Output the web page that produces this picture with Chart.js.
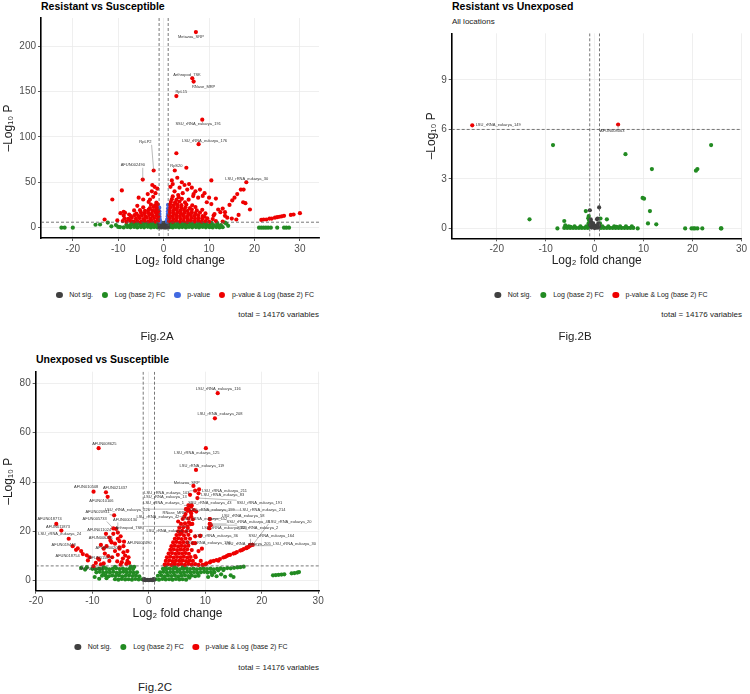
<!DOCTYPE html>
<html>
<head>
<meta charset="utf-8">
<script src="https://cdn.jsdelivr.net/npm/chart.js@4.4.1/dist/chart.umd.min.js"></script>
<style>
  html, body { margin: 0; padding: 0; background: #ffffff; }
  body { width: 750px; height: 694px; position: relative; overflow: hidden; font-family: "Liberation Sans", Arial, sans-serif; color: #000; }
  canvas { position: absolute; }
  .title { position: absolute; font-weight: bold; font-size: 10.5px; line-height: 12px; white-space: nowrap; }
  .subtitle { position: absolute; font-size: 8px; line-height: 10px; white-space: nowrap; color: #222; }
  .legend { position: absolute; display: flex; align-items: center; font-size: 7px; line-height: 8px; white-space: nowrap; transform: translate(-50%, -50%); color: #222; }
  .legend .item { display: flex; align-items: center; margin-right: 8.5px; }
  .legend .item:last-child { margin-right: 0; }
  .legend .dot { width: 6.8px; height: 6.8px; border-radius: 50%; display: inline-block; margin-right: 6.5px; }
  .total { position: absolute; font-size: 8px; line-height: 10px; white-space: nowrap; transform: translate(-100%, -50%); color: #222; }
  .fig { position: absolute; font-size: 11.5px; line-height: 13px; white-space: nowrap; transform: translate(-50%, -50%); color: #222; }
</style>
</head>
<body>
<div class="title" style="left:41px; top:0px;">Resistant vs Susceptible</div>
<div class="title" style="left:452px; top:0px;">Resistant vs Unexposed</div>
<div class="subtitle" style="left:452px; top:17px;">All locations</div>
<div class="title" style="left:36px; top:353px;">Unexposed vs Susceptible</div>

<canvas id="chart-a" width="330" height="270" style="left:0px; top:0px; width:330px; height:270px;"></canvas>
<canvas id="chart-b" width="327" height="271" style="left:423px; top:0px; width:327px; height:271px;"></canvas>
<canvas id="chart-c" width="330" height="284" style="left:0px; top:340px; width:330px; height:284px;"></canvas>

<div class="legend" id="legend-a" style="left:185px; top:295px;"></div>
<div class="legend" id="legend-b" style="left:601px; top:295px;"></div>
<div class="legend" id="legend-c" style="left:181px; top:647px;"></div>

<div class="total" style="left:319px; top:315px;">total = 14176 variables</div>
<div class="total" style="left:742px; top:315px;">total = 14176 variables</div>
<div class="total" style="left:319px; top:668px;">total = 14176 variables</div>

<div class="fig" style="left:157px; top:336px;">Fig.2A</div>
<div class="fig" style="left:575px; top:336px;">Fig.2B</div>
<div class="fig" style="left:155px; top:687px;">Fig.2C</div>

<script>
const CATEGORY_NAMES = ["Not sig.", "Log (base 2) FC", "p-value", "p-value & Log (base 2) FC"];
const CATEGORY_COLORS = ["#404040", "#228b22", "#4169e1", "#ee0000"];
const FC_CUTOFF = 1;
const P_CUTOFF = 6;

const X_TICKS = [-20, -10, 0, 10, 20, 30];
const A_Y_TICKS = [0, 50, 100, 150, 200];
const B_Y_TICKS = [0, 3, 6, 9];
const C_Y_TICKS = [0, 20, 40, 60, 80];

// Fig.2A  Resistant vs Susceptible
const A_NOT_SIG = [[-0.9,0.3],[-0.5,0.2],[-0.1,0.4],[0.3,0.1],[0.7,0.3],[0.95,0.5],[-0.8,2.0],[-0.4,2.2],[0.0,1.8],[0.4,2.3],[0.8,2.0],[-0.95,3.8],[-0.6,4.0],[-0.2,3.6],[0.2,4.1],[0.6,3.9],[0.9,4.4],[-0.8,5.4],[-0.3,5.2],[0.3,5.5],[0.85,5.6]];
const A_LOG_FC = [
  [-9.6,0.6],[-8.8,0.3],[-8.0,0.8],[-7.3,0.4],[-6.5,0.7],[-5.8,0.2],[-5.0,0.6],[-4.3,0.4],[-3.5,0.9],[-2.8,0.3],[-2.1,0.6],[-1.4,0.4],
  [1.3,0.5],[2.0,0.3],[2.7,0.8],[3.4,0.4],[4.1,0.6],[4.9,0.2],[5.6,0.7],[6.3,0.4],[7.1,0.6],[7.8,0.3],[8.6,0.7],[9.3,0.4],[10.1,0.5],[10.8,0.2],[11.6,0.6],[12.3,0.3],[13.0,0.5],
  [-8.2,3.1],[-7.4,2.7],[-6.6,3.3],[-5.9,2.8],[-5.1,3.2],[-4.4,2.6],[-3.6,3.0],[-2.9,3.4],[-2.2,2.8],[-1.5,3.1],
  [1.4,2.9],[2.1,3.3],[2.8,2.7],[3.6,3.1],[4.3,2.8],[5.0,3.4],[5.8,2.9],[6.5,3.2],[7.2,2.6],[8.0,3.0],[8.7,3.3],[9.5,2.8],[10.2,3.1],[11.0,2.7],[11.8,3.2],[12.6,2.9],
  [-7.0,5.2],[-6.1,5.5],[-5.3,5.0],[-4.5,5.4],[-3.8,5.1],[-3.0,5.6],[-2.3,5.2],[-1.6,5.5],
  [1.5,5.3],[2.2,5.6],[3.0,5.1],[3.7,5.5],[4.5,5.2],[5.3,5.6],[6.0,5.0],[6.8,5.4],[7.6,5.2],[8.4,5.5],[9.3,5.0],[10.5,5.4],[11.8,5.1],[13.5,5.5],
  [-15.0,3.2],[-14.0,3.5],[-12.3,5.6],[-11.5,1.5],[-10.5,2.8],[-10.0,0.8],[-22.5,0],[-21.8,0],[-20.0,0],[14.2,2.0],[13.8,4.5],
  [21.0,0],[21.5,0],[22.0,0],[22.5,0],[23.0,0],[23.6,0],[25.0,0],[26.5,0],[27.0,0],[27.6,0]
];
const A_PVALUE = [[-0.95,7],[-0.9,9.5],[-0.9,12],[-0.92,15],[-0.95,18],[-0.96,22],[-0.85,8],[-0.75,6.5],[0.75,6.5],[0.85,7.5],[0.8,9],[0.9,10],[0.9,12.5],[0.92,15],[0.95,18],[0.96,21],[0.97,25]];
const A_BOTH = [
  [-9.0,7.2],[-8.2,6.6],[-7.4,7.5],[-6.6,6.8],[-5.8,7.3],[-5.0,6.5],[-4.2,7.7],[-3.4,6.9],[-2.6,7.4],[-1.8,6.7],[-1.2,7.6],
  [-8.6,10.3],[-7.8,9.6],[-7.0,10.8],[-6.1,9.9],[-5.3,10.5],[-4.5,9.4],[-3.7,10.9],[-2.9,10.0],[-2.1,10.6],[-1.3,9.7],
  [-8.8,13.4],[-7.2,12.6],[-6.4,13.8],[-5.6,12.9],[-4.8,13.5],[-4.0,12.4],[-3.2,13.9],[-2.4,13.0],[-1.6,13.6],[-1.2,12.5],
  [-8.5,16.4],[-6.0,15.6],[-5.0,16.8],[-4.2,15.9],[-3.4,16.5],[-2.6,15.4],[-1.8,16.9],[-1.3,16.0],
  [-5.2,19.3],[-4.1,18.6],[-3.3,19.8],[-2.5,18.9],[-1.7,19.5],[-1.2,18.4],
  [-4.5,22.4],[-3.0,21.6],[-2.2,22.8],[-1.5,21.9],[-2.8,25.3],[-1.9,24.6],[-1.3,25.8],[-3.3,28.4],[-1.6,27.7],
  [-3.0,31],[-2.3,34],[-1.8,38],[-2.6,40],[-1.4,43],[-2.0,45],[-2.5,47],[-3.5,37],[-5.5,33],[-4.5,31],[-9.2,41],[-11.3,31],
  [-8.8,17.5],[-9.5,16],[-7.6,14.5],[-13.0,9],[-10.2,8],[-6.5,19],[-5.8,24],[-2.2,63],[-4.6,53],
  [1.2,7.3],[2.0,6.6],[2.8,7.6],[3.6,6.8],[4.4,7.4],[5.2,6.5],[6.0,7.8],[6.8,6.9],[7.6,7.5],[8.4,6.7],[9.2,7.3],[10.0,6.6],[11.5,7.2],[13.0,6.8],
  [1.3,10.4],[2.1,9.6],[2.9,10.8],[3.7,9.8],[4.5,10.5],[5.3,9.4],[6.1,10.9],[6.9,10.0],[7.7,10.6],[8.5,9.7],[9.6,10.3],[10.8,9.5],
  [1.2,13.5],[2.0,12.6],[2.8,13.8],[3.6,12.9],[4.4,13.4],[5.2,12.5],[6.0,13.9],[6.8,13.1],[7.6,13.6],[8.6,12.7],[11.0,13.3],
  [1.4,16.4],[2.2,15.6],[3.0,16.8],[3.8,15.8],[4.6,16.5],[5.4,15.4],[6.2,16.9],[7.0,16.0],[8.0,16.6],[9.2,15.7],
  [1.3,19.4],[2.1,18.6],[2.9,19.8],[3.7,18.8],[4.5,19.5],[5.3,18.5],[6.2,19.9],[7.3,19.0],[8.5,19.6],
  [1.5,22.4],[2.3,21.6],[3.1,22.8],[3.9,21.8],[4.8,22.5],[5.8,21.5],[7.0,22.7],
  [1.4,25.4],[2.2,24.6],[3.0,25.8],[3.9,24.8],[5.0,25.5],[6.3,24.7],
  [1.6,28.4],[2.5,27.6],[3.5,28.8],[4.7,27.8],[1.8,31.4],[2.8,30.6],[4.0,31.8],[5.5,30.8],[2.0,34.4],[3.3,33.6],[6.5,34.8],
  [2.8,82],[5.0,66],[10.5,52],[1.8,52],[3.0,55],[4.0,50],[4.6,47],[5.6,48],[6.2,44],[7.0,40],[5.2,42],[3.5,44],[2.4,40],
  [8.0,42],[9.0,38],[8.6,35],[7.6,33],[6.6,37],[10.0,33],[11.5,32],[9.5,28],[10.5,26],[12.0,20],[13.0,21],[12.5,17],[11.2,15],
  [13.5,13],[14.0,11],[9.0,12],[15.0,10],[16.0,9],[16.5,14],[14.5,25],[15.1,30],[15.6,33],[16.2,37],[17.0,42],[17.6,42],
  [17.5,28],[18.0,27],[19.0,20],[13.5,17],[1.5,45],[2.0,48],[3.2,36],[4.2,38],
  [21.5,8.5],[22.0,9],[22.6,9],[23.3,10],[23.8,10],[24.5,11],[25.0,11.5],[25.5,12],[26.0,12.5],[26.5,13],[28.0,14],[28.6,14.5],[30.0,16],
  [7.1,215.5],[6.3,164.6],[6.6,161],[2.8,145],[8.5,119],[7.7,92],[2.45,63],[18.2,50]
];
const A_LABEL_NAMES = ["Metazoa_SRP", "Arthropod_7SK", "RNase_MRP", "RpL15", "SSU_rRNA_eukarya_191", "LSU_rRNA_eukarya_176", "RpLP2", "AFUN002490", "RpS20", "LSU_rRNA_eukarya_30"];
const A_LABEL_POINTS = [[7.1,215.5],[6.3,164.6],[6.6,161],[2.8,145],[8.5,119],[7.7,92],[-2.2,63],[-4.6,53],[2.45,63],[18.2,50]];
const A_LABEL_TEXT_AT = [[6.0,210],[5.15,168.7],[8.8,155.3],[3.9,150],[7.6,114],[9.0,96],[-4.0,94],[-6.8,68.7],[2.8,68.4],[18.3,54]];

// Fig.2B  Resistant vs Unexposed
const B_NOT_SIG = [[-0.97,1.1],[-0.8,0.55],[-0.7,0.4],[0.92,1.27],[0.6,0.6],[0.5,0.55],[0.2,0.15],[-0.2,0.1],[-0.5,0.15],[0.0,0.02],[0.4,0.05],[-0.9,0.2],[0.9,0.15],[-0.6,0.05],[0.7,0.05],[-0.3,0.3],[0.75,0.3]];
const B_LOG_FC = [
  [-6.2,0.03],[-5.6,0.03],[-5.0,0.03],[-4.4,0.03],[-3.8,0.03],[-3.2,0.03],[-2.6,0.03],[-2.0,0.03],[-1.4,0.03],
  [1.3,0.03],[1.9,0.03],[2.5,0.03],[3.1,0.03],[3.7,0.03],[4.3,0.03],[4.9,0.03],[5.5,0.03],[6.1,0.03],[6.7,0.03],[7.3,0.03],[7.9,0.03],
  [-5.3,0.12],[-4.1,0.12],[-2.9,0.12],[-1.7,0.12],[-1.2,0.12],[1.6,0.12],[2.8,0.12],[4.0,0.12],[5.2,0.12],[6.4,0.12],[7.6,0.12],
  [-1.8,1.05],[-1.2,0.75],[-1.3,0.62],[-1.1,0.5],[-1.25,0.3],[-1.1,0.2],[1.2,0.6],[2.5,0.55],[1.1,0.3],[-6.2,0.45],[-6.0,0.18],[-4.9,0.1],
  [-13.3,0.55],[-7.6,0],[-8.5,5.05],[6.3,4.5],[11.7,3.6],[20.7,3.5],[21.0,3.6],[23.8,5.05],[9.8,1.85],[10.1,1.8],[11.3,1.05],[10.9,0.3],[12.6,0.25],
  [8.8,0],[4.5,0.1],[18.5,0],[19.8,0],[20.2,0],[20.5,0],[21.0,0],[22.0,0],[25.8,0],[25.9,0]
];
const B_BOTH = [[-25.0,6.25],[4.8,6.3]];
const B_LABEL_NAMES = ["LSU_rRNA_eukarya_149", "AFUN008063"];
const B_LABEL_POINTS = [[-25.0,6.25],[4.8,6.3]];
const B_LABEL_TEXT_AT = [[-19.7,6.25],[3.6,5.9]];

// Fig.2C  Unexposed vs Susceptible
const C_NOT_SIG = [[-0.9,0.3],[-0.6,0.2],[-0.3,0.3],[0.0,0.2],[0.3,0.3],[0.6,0.2],[0.9,0.3],[-0.8,0.7],[0.8,0.7]];
const C_LOG_FC = [
  [-6.0,0.6],[-5.4,0.4],[-4.8,0.7],[-4.2,0.5],[-3.6,0.6],[-3.0,0.4],[-2.4,0.7],[-1.8,0.5],[-1.2,0.6],
  [-8.3,2.0],[-7.7,2.2],[-7.1,1.8],[-6.5,2.1],[-5.9,1.9],[-5.3,2.2],[-4.7,1.8],[-4.1,2.0],[-3.5,2.2],[-2.9,1.9],[-2.3,2.1],[-1.7,1.8],
  [-9.3,3.4],[-8.7,3.6],[-8.1,3.2],[-7.5,3.5],[-6.9,3.3],[-6.3,3.6],[-5.7,3.2],[-5.1,3.4],[-4.5,3.6],[-3.9,3.3],[-3.3,3.5],[-2.7,3.2],[-2.1,3.4],
  [-10.0,4.8],[-9.4,4.6],[-8.8,4.9],[-8.2,4.7],[-7.6,5.0],[-7.0,4.6],[-6.4,4.8],[-5.8,5.0],[-5.2,4.7],[-4.6,4.9],[-4.0,4.6],[-3.4,4.8],[-2.8,4.7],
  [-11.3,4.5],[-11.0,5.5],[-12.0,5.2],[-9.6,1.5],[-8.8,0.8],[-7.5,1.0],[-2.6,5.6],[-3.2,5.7],[-6.0,5.6],[-8.0,5.5],
  [1.2,0.6],[1.8,0.4],[2.4,0.7],[3.0,0.5],[3.6,0.6],[4.2,0.4],[4.8,0.7],[5.4,0.5],[6.0,0.6],[6.6,0.4],
  [1.6,2.0],[2.2,2.2],[2.8,1.8],[3.4,2.1],[4.0,1.9],[4.6,2.2],[5.2,1.8],[5.8,2.0],[6.4,2.2],[7.0,1.9],[7.6,2.1],[8.2,1.8],[8.8,2.0],
  [2.0,3.4],[2.6,3.6],[3.2,3.2],[3.8,3.5],[4.4,3.3],[5.0,3.6],[5.6,3.2],[6.2,3.4],[6.8,3.6],[7.4,3.3],[8.0,3.5],[8.6,3.2],[9.2,3.4],[9.8,3.6],[10.4,3.3],[11.0,3.5],[11.6,3.4],
  [2.5,4.8],[3.1,4.6],[3.7,4.9],[4.3,4.7],[4.9,5.0],[5.5,4.6],[6.1,4.8],[6.7,5.0],[7.3,4.7],[7.9,4.9],[8.5,4.6],[9.1,4.8],[9.7,5.0],[10.3,4.7],[10.9,4.9],[11.5,4.6],[12.1,4.8],[12.7,5.0],[13.3,4.8],[13.9,5.1],[14.5,5.0],[15.1,5.2],[15.7,5.4],
  [10.5,1.5],[11.2,2.3],[12.0,1.8],[12.8,2.6],[13.5,1.6],[14.5,2.2],[15.0,1.5],[16.2,5.5],[16.8,5.7],[12.3,4.2],[13.2,4.3],[7.2,1.2],
  [22.0,2.2],[22.5,2.3],[23.0,2.4],[23.5,2.5],[24.0,2.6],[25.3,3.0],[25.8,3.1],[26.3,3.3],[26.6,3.5],[3.0,5.6],[4.5,5.7],[6.0,5.5]
];
const C_BOTH = [
  [-5.0,6.5],[-5.6,7.8],[-4.6,9.0],[-4.2,10.2],[-3.8,12.0],[-4.5,11.5],[-5.2,13.0],[-6.0,12.0],[-6.5,9.5],[-7.0,8.0],[-8.0,7.0],[-8.5,6.6],
  [-9.4,7.2],[-10.5,9.5],[-11.0,10.3],[-6.0,15.0],[-5.5,17.0],[-5.0,18.0],[-6.8,16.3],[-7.5,14.0],[-7.0,17.5],[-8.0,13.0],[-5.2,16.0],
  [-4.5,14.0],[-3.8,8.0],[-4.0,6.8],[-3.5,7.2],[-10.8,8.2],[-12.0,12.0],[-12.9,12.5],[-13.5,14.0],[-8.5,14.5],[-6.3,19.0],[-5.8,21.0],
  [-7.8,11.0],[-7.2,10.0],[-9.0,9.0],[-4.8,7.5],[-3.6,9.5],[-5.5,10.5],
  [-8.9,53.7],[-9.8,36.1],[-7.6,35.8],[-7.3,34.0],[-6.15,26.5],[-16.4,23.0],[-6.3,21.2],[-5.5,19.5],[-15.5,20.3],[-7.6,19.0],
  [-14.2,17.0],[-6.6,15.5],[-4.4,15.8],[-12.6,13.1],[-5.2,13.5],[-11.7,10.8],[-8.8,8.5],[-9.8,5.9],
  [2.8,6.5],[3.4,6.7],[4.0,6.4],[4.6,6.8],[5.2,6.5],[5.8,6.7],[6.4,6.4],[7.0,6.8],[7.6,6.5],[8.2,6.7],[8.8,6.4],
  [3.0,8.0],[3.6,8.2],[4.2,7.9],[4.8,8.1],[5.4,8.0],[6.0,8.2],[6.6,7.9],[7.2,8.1],[7.8,8.0],
  [3.2,9.5],[3.8,9.7],[4.4,9.4],[5.0,9.6],[5.6,9.5],[6.2,9.7],[6.8,9.4],[7.4,9.6],[8.3,9.5],
  [3.5,11.0],[4.1,11.2],[4.7,10.9],[5.3,11.1],[5.9,11.0],[6.5,11.2],[7.1,10.9],
  [3.8,12.5],[4.4,12.7],[5.0,12.4],[5.6,12.6],[6.2,12.5],[6.8,12.7],[7.6,12.4],
  [4.0,14.0],[4.6,14.2],[5.2,13.9],[5.8,14.1],[6.4,14.0],[7.0,14.2],
  [4.3,15.5],[4.9,15.7],[5.5,15.4],[6.1,15.6],[6.8,15.5],
  [4.6,17.0],[5.2,17.2],[5.8,16.9],[6.5,17.1],[7.3,17.0],
  [4.9,18.5],[5.5,18.7],[6.2,18.4],[7.0,18.6],[5.2,20.0],[5.9,20.2],[6.6,19.9],[7.4,20.1],
  [5.4,21.5],[6.1,21.7],[6.9,21.4],[5.7,23.0],[6.4,23.2],[7.4,22.9],[6.0,25.0],[7.0,25.2],[7.8,24.9],[6.5,27.0],[7.5,27.2],
  [8.2,10.0],[8.8,12.0],[9.2,8.0],[7.8,15.2],[8.2,18.0],[9.1,18.2],[10.7,21.3],[10.8,23.0],[10.8,25.0],[7.7,23.0],[7.5,26.0],
  [7.0,29.0],[7.6,30.5],[8.4,28.0],[6.6,29.0],[5.2,24.0],[9.4,13.0],
  [9.5,6.4],[10.2,7.0],[10.8,7.4],[11.5,8.0],[12.0,8.4],[12.6,8.8],[13.2,9.4],[13.8,10.0],[14.4,10.5],[15.0,11.0],[15.6,11.6],
  [16.2,12.2],[16.8,12.8],[17.3,13.2],[17.9,14.2],[17.6,13.6],[13.5,9.6],[11.0,7.8],[10.0,6.6],[12.3,8.1],[14.1,10.4],[15.3,11.2],[16.5,12.4],
  [12.2,76.0],[11.7,65.8],[10.1,53.7],[8.35,44.9],[7.9,38.4],[8.2,36.5],[8.9,37.0],[7.3,34.8],[8.8,35.4],[7.0,30.5],[7.5,30.0],[8.6,33.5],
  [6.6,29.0],[6.9,28.3],[7.4,28.0],[8.0,28.6],[10.8,25.0],[6.3,26.0],[7.1,23.6],[10.8,23.0],[18.4,14.5],[6.8,22.0],[10.7,21.3],[11.0,22.5],
  [5.8,19.5],[9.1,18.2],[18.0,14.5],[8.2,15.2],[17.3,13.4],[17.9,14.2]
];
const C_LABEL_NAMES = [
  "AFUN008625", "AFUN010508", "AFUN021437", "AFUN010106", "AFUN020941", "AFUN018774", "AFUN005733", "AFUN000130", "AFUN011873",
  "AFUN011024", "LSU_rRNA_eukarya_24", "AFUN006291", "AFUN002490", "AFUN019448", "AFUN000205", "AFUN018754", "AFUN015071", "AFUN019253",
  "LSU_rRNA_eukarya_116", "LSU_rRNA_eukarya_208", "LSU_rRNA_eukarya_125", "LSU_rRNA_eukarya_119", "Metazoa_SRP", "LSU_rRNA_eukarya_103",
  "LSU_rRNA_eukarya_211", "LSU_rRNA_eukarya_13", "LSU_rRNA_eukarya_83", "LSU_rRNA_eukarya_1", "SSU_rRNA_eukarya_43", "SSU_rRNA_eukarya_191",
  "LSU_rRNA_eukarya_226", "RNase_MRP", "LSU_rRNA_eukarya_199", "LSU_rRNA_eukarya_214", "LSU_rRNA_eukarya_58", "LSU_rRNA_eukarya_42",
  "LSU_rRNA_eukarya_152", "SSU_rRNA_eukarya_48", "LSU_rRNA_eukarya_20", "Arthropod_7SK", "LSU_rRNA_eukarya_220", "SSU_rRNA_eukarya_2",
  "LSU_rRNA_eukarya_15", "LSU_rRNA_eukarya_36", "SSU_rRNA_eukarya_164", "LSU_rRNA_eukarya_136", "LSU_rRNA_eukarya_205", "LSU_rRNA_eukarya_30"
];
const C_LABEL_POINTS = [
  [-8.9,53.7],[-9.8,36.1],[-7.6,35.8],[-7.3,34.0],[-6.15,26.5],[-16.4,23.0],[-6.3,21.2],[-5.5,19.5],[-15.5,20.3],
  [-7.6,19.0],[-14.2,17.0],[-6.6,15.5],[-4.4,15.8],[-12.6,13.1],[-5.2,13.5],[-11.7,10.8],[-8.8,8.5],[-9.8,5.9],
  [12.2,76.0],[11.7,65.8],[10.1,53.7],[8.35,44.9],[7.9,38.4],[8.2,36.5],
  [8.9,37.0],[7.3,34.8],[8.8,35.4],[7.0,30.5],[7.5,30.0],[8.6,33.5],
  [6.6,29.0],[6.9,28.3],[7.4,28.0],[8.0,28.6],[10.8,25.0],[6.3,26.0],
  [7.1,23.6],[10.8,23.0],[18.4,14.5],[6.8,22.0],[10.7,21.3],[11.0,22.5],
  [5.8,19.5],[9.1,18.2],[18.0,14.5],[8.2,15.2],[17.3,13.4],[17.9,14.2]
];
const C_LABEL_TEXT_AT = [
  [-7.9,55.3],[-11.1,37.9],[-6.0,37.6],[-8.4,32.3],[-9.1,27.8],[-17.6,25.0],[-9.6,25.0],[-4.2,24.6],[-16.1,21.9],
  [-8.8,20.5],[-15.8,18.8],[-8.5,17.2],[-1.7,15.4],[-15.1,14.5],[-7.3,13.4],[-14.4,10.1],[-8.5,9.3],[-10.2,4.6],
  [12.3,77.8],[12.6,67.6],[8.5,52.0],[9.4,46.4],[6.7,39.7],[3.2,35.4],
  [13.4,36.4],[2.9,34.0],[13.1,34.6],[2.6,31.4],[10.8,31.4],[19.6,31.6],
  [-3.8,28.7],[4.5,27.6],[11.2,28.7],[20.2,28.7],[16.7,26.3],[1.6,25.8],
  [9.9,25.0],[17.6,24.0],[25.0,24.0],[-3.5,21.3],[13.4,21.6],[19.3,21.6],
  [3.4,20.0],[12.0,18.0],[21.7,18.0],[10.5,15.4],[17.6,14.9],[25.8,14.9]
];

function toPoints(pairs) {
  return pairs.map(([x, y]) => ({ x, y }));
}

function buildLabels(names, points, textAt) {
  return names.map((name, i) => ({
    name,
    x: points[i][0],
    y: points[i][1],
    tx: textAt[i][0],
    ty: textAt[i][1]
  }));
}

const volcanoExtras = {
  id: "volcanoExtras",
  afterDatasetsDraw(chart, args, opts) {
    const { ctx, chartArea } = chart;
    const xs = chart.scales.x;
    const ys = chart.scales.y;

    ctx.save();
    ctx.beginPath();
    ctx.rect(chartArea.left, chartArea.top, chartArea.right - chartArea.left, chartArea.bottom - chartArea.top);
    ctx.clip();

    // cutoff lines
    ctx.strokeStyle = "#555555";
    ctx.lineWidth = 0.8;
    ctx.setLineDash([3, 2]);
    [-FC_CUTOFF, FC_CUTOFF].forEach((v) => {
      const px = xs.getPixelForValue(v);
      ctx.beginPath();
      ctx.moveTo(px, chartArea.top);
      ctx.lineTo(px, chartArea.bottom);
      ctx.stroke();
    });
    const py = ys.getPixelForValue(P_CUTOFF);
    ctx.beginPath();
    ctx.moveTo(chartArea.left, py);
    ctx.lineTo(chartArea.right, py);
    ctx.stroke();
    ctx.setLineDash([]);

    // point labels with connectors
    ctx.font = '4px "Liberation Sans", Arial, sans-serif';
    ctx.textAlign = "center";
    ctx.textBaseline = "middle";
    (opts.labels || []).forEach((lab) => {
      const px = xs.getPixelForValue(lab.x);
      const ppy = ys.getPixelForValue(lab.y);
      const tx = xs.getPixelForValue(lab.tx);
      const ty = ys.getPixelForValue(lab.ty);
      const w = ctx.measureText(lab.name).width;
      const ex = Math.max(tx - w / 2, Math.min(px, tx + w / 2));
      const ey = Math.max(ty - 2.5, Math.min(ppy, ty + 2.5));
      if (Math.hypot(ex - px, ey - ppy) > 4) {
        ctx.strokeStyle = "#666666";
        ctx.lineWidth = 0.45;
        ctx.beginPath();
        ctx.moveTo(ex, ey);
        ctx.lineTo(px, ppy);
        ctx.stroke();
      }
      ctx.fillStyle = "#333333";
      ctx.fillText(lab.name, tx, ty);
    });
    ctx.restore();
  }
};

function makeDataset(category, pairs) {
  return {
    label: CATEGORY_NAMES[category],
    data: toPoints(pairs),
    backgroundColor: CATEGORY_COLORS[category],
    borderWidth: 0,
    pointRadius: 2.1,
    pointHoverRadius: 2.1
  };
}

function makeConfig(panel) {
  return {
    type: "scatter",
    data: { datasets: panel.datasets },
    options: {
      responsive: false,
      animation: false,
      events: [],
      layout: { padding: panel.padding },
      plugins: {
        legend: { display: false },
        tooltip: { enabled: false },
        volcanoExtras: { labels: panel.labels }
      },
      scales: {
        x: {
          type: "linear",
          min: panel.xMin,
          max: panel.xMax,
          afterBuildTicks(axis) { axis.ticks = X_TICKS.map((v) => ({ value: v })); },
          afterFit(axis) { axis.height = 30; },
          ticks: { color: "#4d4d4d", font: { size: 10, family: "Liberation Sans" }, padding: 2, maxRotation: 0, autoSkip: false },
          grid: { color: "#ebebeb", lineWidth: 0.8, tickLength: 3, tickColor: "#333333" },
          border: { display: true, color: "#000000", width: 1.6 },
          title: { display: true, text: "Log\u2082 fold change", color: "#222222", font: { size: 12, family: "Liberation Sans" }, padding: { top: 0, bottom: 0 } }
        },
        y: {
          type: "linear",
          min: panel.yMin,
          max: panel.yMax,
          afterBuildTicks(axis) { axis.ticks = panel.yTicks.map((v) => ({ value: v })); },
          afterFit(axis) { axis.width = panel.yWidth; },
          ticks: { color: "#4d4d4d", font: { size: 10, family: "Liberation Sans" }, padding: 2 },
          grid: { color: "#ebebeb", lineWidth: 0.8, tickLength: 3, tickColor: "#333333" },
          border: { display: true, color: "#000000", width: 1.6 },
          title: { display: true, text: "\u2013Log\u2081\u2080 P", color: "#222222", font: { size: 12, family: "Liberation Sans" }, padding: { top: 1, bottom: 0 } }
        }
      }
    },
    plugins: [volcanoExtras]
  };
}

function fillLegend(id, categories) {
  const box = document.getElementById(id);
  categories.forEach((c) => {
    const item = document.createElement("span");
    item.className = "item";
    const dot = document.createElement("span");
    dot.className = "dot";
    dot.style.background = CATEGORY_COLORS[c];
    item.appendChild(dot);
    item.appendChild(document.createTextNode(CATEGORY_NAMES[c]));
    box.appendChild(item);
  });
}

document.addEventListener("DOMContentLoaded", () => {
  new Chart(document.getElementById("chart-a"), makeConfig({
    datasets: [makeDataset(3, A_BOTH), makeDataset(2, A_PVALUE), makeDataset(0, A_NOT_SIG), makeDataset(1, A_LOG_FC)],
    labels: buildLabels(A_LABEL_NAMES, A_LABEL_POINTS, A_LABEL_TEXT_AT),
    xMin: -27, xMax: 34.2, yMin: -11.4, yMax: 231, yTicks: A_Y_TICKS,
    yWidth: 41,
    padding: { top: 18, right: 11, bottom: 2, left: 0 }
  }));

  new Chart(document.getElementById("chart-b"), makeConfig({
    datasets: [makeDataset(3, B_BOTH), makeDataset(0, B_NOT_SIG), makeDataset(1, B_LOG_FC)],
    labels: buildLabels(B_LABEL_NAMES, B_LABEL_POINTS, B_LABEL_TEXT_AT),
    xMin: -29.2, xMax: 30.05, yMin: -0.6, yMax: 11.83, yTicks: B_Y_TICKS,
    yWidth: 28.7,
    padding: { top: 33.3, right: 8.3, bottom: 2.7, left: 0 }
  }));

  new Chart(document.getElementById("chart-c"), makeConfig({
    datasets: [makeDataset(3, C_BOTH), makeDataset(0, C_NOT_SIG), makeDataset(1, C_LOG_FC)],
    labels: buildLabels(C_LABEL_NAMES, C_LABEL_POINTS, C_LABEL_TEXT_AT),
    xMin: -20.05, xMax: 30.2, yMin: -4.05, yMax: 84.7, yTicks: C_Y_TICKS,
    yWidth: 35.7,
    padding: { top: 31.7, right: 10.7, bottom: 3.3, left: 0 }
  }));

  fillLegend("legend-a", [0, 1, 2, 3]);
  fillLegend("legend-b", [0, 1, 3]);
  fillLegend("legend-c", [0, 1, 3]);
});
</script>
</body>
</html>
